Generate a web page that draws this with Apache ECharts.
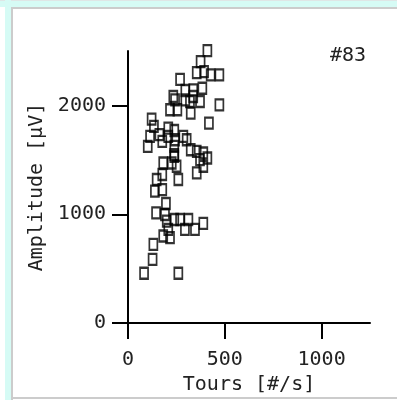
<!DOCTYPE html>
<html>
<head>
<meta charset="utf-8">
<script src="https://cdn.jsdelivr.net/npm/echarts@6/dist/echarts.min.js"></script>
<style>
  html, body { margin: 0; padding: 0; background: #fff; }
  #chart { width: 397px; height: 400px; }
</style>
</head>
<body>
<div id="chart"></div>
<script>
// tours (#/s) per sample
const tours = [
  410, 375, 355, 393, 427, 472, 269, 384, 337, 296, 234, 337, 296, 372, 320, 217, 255, 324, 472, 418, 243,
  122, 134, 114, 102, 162, 177, 208, 239, 208, 243, 239, 286, 303, 324, 355, 389, 410, 372, 355, 389,
  226, 251, 239, 182, 148, 139, 177, 177, 260, 239,
  145, 196, 191, 200, 239, 269, 312, 294, 346, 389, 208, 217, 182, 131, 127, 83, 260
];
// amplitude (µV) per sample
const amplitude = [
  2503, 2402, 2302, 2311, 2280, 2280, 2240, 2158, 2143, 2137, 2082, 2082, 2051, 2036, 2036, 1960, 1960, 1929, 2005, 1838, 2051,
  1874, 1807, 1715, 1624, 1731, 1670, 1792, 1770, 1715, 1685, 1624, 1715, 1685, 1593, 1578, 1563, 1517, 1502, 1380, 1441,
  1471, 1441, 1548, 1471, 1319, 1212, 1365, 1227, 1319, 1532,
  1013, 1099, 998, 937, 952, 952, 952, 861, 861, 916, 861, 785, 800, 723, 586, 458, 458
];
const xTicks = [0, 500, 1000];
const yTicks = [0, 1000, 2000];
const xName = "Tours [#/s]";
const yName = "Amplitude [µV]";
const tag = "#83";

const font = "DejaVu Sans Mono";
const chart = echarts.init(document.getElementById("chart"));

const option = {
  backgroundColor: "#fff",
  animation: false,
  grid: { left: 128, right: 27, top: 51, bottom: 76 },
  xAxis: {
    type: "value",
    min: 0,
    max: 1250,
    splitLine: { show: false },
    axisLine: { lineStyle: { color: "#000", width: 2 } },
    axisTick: { show: true, length: 16, customValues: xTicks, lineStyle: { color: "#000", width: 2 } },
    axisLabel: {
      customValues: xTicks, margin: 27, color: "#222", fontSize: 20, fontFamily: font,
      formatter: (v) => String(v)
    },
    name: xName,
    nameLocation: "middle",
    nameGap: 37,
    nameTextStyle: { color: "#222", fontSize: 20, fontFamily: font }
  },
  yAxis: {
    type: "value",
    min: 0,
    max: 2500,
    splitLine: { show: false },
    axisLine: { lineStyle: { color: "#000", width: 2 } },
    axisTick: { show: true, length: 16, customValues: yTicks, lineStyle: { color: "#000", width: 2 } },
    axisLabel: {
      customValues: yTicks, margin: 22, color: "#222", fontSize: 20, fontFamily: font,
      formatter: (v) => String(v)
    },
    name: yName,
    nameLocation: "middle",
    nameRotate: 90,
    nameGap: 51,
    nameTextStyle: { color: "#222", fontSize: 20, fontFamily: font }
  },
  graphic: [
    { type: "rect", shape: { x: 0, y: 0, width: 397, height: 7 }, style: { fill: "#d6fbf5" }, silent: true },
    { type: "rect", shape: { x: 0, y: 0, width: 397, height: 1 }, style: { fill: "#dfe6e6" }, silent: true },
    { type: "rect", shape: { x: 5, y: 0, width: 6, height: 400 }, style: { fill: "#d6fbf5" }, silent: true },
    { type: "rect", shape: { x: 11, y: 7, width: 2, height: 393 }, style: { fill: "#cccccc" }, silent: true },
    { type: "rect", shape: { x: 11, y: 7, width: 386, height: 2 }, style: { fill: "#cccccc" }, silent: true },
    { type: "rect", shape: { x: 11, y: 397, width: 386, height: 2 }, style: { fill: "#cccccc" }, silent: true },
    {
      type: "text",
      right: 31,
      top: 46,
      style: { text: tag, fill: "#222", fontSize: 20, fontFamily: font }
    }
  ],
  series: [
    {
      type: "scatter",
      symbol: "rect",
      symbolSize: [8, 11],
      clip: false,
      itemStyle: { color: "rgba(255,255,255,0)", borderColor: "#000", borderWidth: 2 },
      data: tours.map((t, i) => [t, amplitude[i]])
    }
  ]
};

chart.setOption(option);
</script>
</body>
</html>
